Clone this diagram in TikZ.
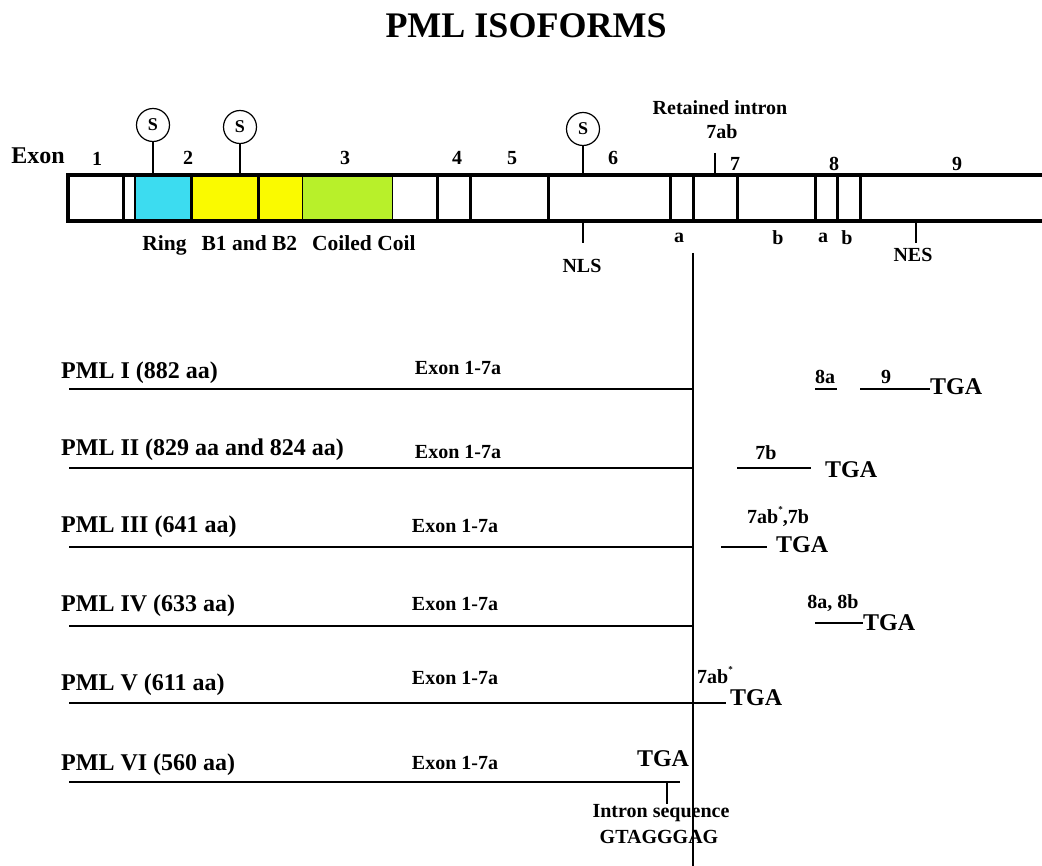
\documentclass[tikz,border=0pt]{standalone}
\usepackage{fontspec}
\setmainfont{Liberation Serif}
\newcommand{\tinystar}{\raisebox{0.55em}{\fontsize{9}{9}\selectfont *}}
\begin{document}
\begin{tikzpicture}[x=1pt,y=-1pt,
  lbl/.style={font=\bfseries\fontsize{20}{22}\selectfont,inner sep=0pt},
  big/.style={font=\bfseries\fontsize{24}{26}\selectfont,inner sep=0pt},
  title/.style={font=\bfseries\fontsize{36}{40}\selectfont,inner sep=0pt},
  sumo/.style={draw,circle,line width=1.2pt,minimum size=33pt,inner sep=0pt,font=\bfseries\fontsize{18}{20}\selectfont},
  barline/.style={line width=3.5pt},
  divline/.style={line width=3pt},
  tick/.style={line width=1.5pt},
  iso/.style={line width=2pt},
  seg/.style={line width=1.8pt}]
\useasboundingbox (0,0) rectangle (1042,866);
\definecolor{ringc}{HTML}{3CDCF0}
\definecolor{bbox}{HTML}{FAFA00}
\definecolor{coilc}{HTML}{B8F02A}

\node[title] (title) at (526,26) {PML ISOFORMS};

% bar fills
\fill[ringc] (135,175) rectangle (191,221);
\fill[bbox] (191,175) rectangle (302,221);
\fill[coilc] (302,175) rectangle (392,221);
% bar outline
\draw[barline] (1042,175) -- (68,175) -- (68,221) -- (1042,221);
\foreach \xx in {123,191,258,437,470,548,670,693,737,815,837,860}
  \draw[divline] (\xx,175) -- (\xx,221);
\draw[line width=1.5pt] (135,175) -- (135,221);
\draw[line width=1pt] (302,175) -- (302,221);
\draw[line width=1pt] (392,175) -- (392,221);

\node[big] (exon) at (38,156) {Exon};
\node[lbl] (e1) at (97,159) {1};
\node[lbl] (e2) at (188,158) {2};
\node[lbl] (e3) at (345,158) {3};
\node[lbl] (e4) at (457,158) {4};
\node[lbl] (e5) at (512,158) {5};
\node[lbl] (e6) at (613,158) {6};
\node[lbl] (e7) at (735,164) {7};
\node[lbl] (e8) at (834,164) {8};
\node[lbl] (e9) at (957,164) {9};

% SUMO sites
\node[sumo] (s1) at (153,125) {S};
\node[sumo] (s2) at (240,127) {S};
\node[sumo] (s3) at (583,129) {S};
\coordinate (b1) at (153,175);
\coordinate (b2) at (240,175);
\coordinate (b3) at (583,175);
\draw[tick] (s1.south) -- (b1);
\draw[tick] (s2.south) -- (b2);
\draw[tick] (s3.south) -- (b3);

\node[lbl] (ret) at (720,108) {Retained intron};
\node[lbl] (ab) at (722,132) {7ab};
\coordinate (t7a) at (715,153);
\coordinate (t7b) at (715,175);
\draw[tick] (t7a) -- (t7b);

\node[lbl,font=\bfseries\fontsize{21.5}{23}\selectfont] (dom) at (279,245) {Ring\hspace{15pt}B1 and B2\hspace{15pt}Coiled Coil};
\coordinate (nlsa) at (583,221);
\coordinate (nlsb) at (583,243);
\draw[tick] (nlsa) -- (nlsb);
\node[lbl] (nls) at (582,266) {NLS};
\node[lbl] (la1) at (679,238) {a};
\node[lbl] (lb1) at (778,238) {b};
\node[lbl] (la2) at (823,238) {a};
\node[lbl] (lb2) at (847,238) {b};
\coordinate (nesa) at (916,221);
\coordinate (nesb) at (916,243);
\draw[tick] (nesa) -- (nesb);
\node[lbl] (nes) at (913,255) {NES};

% long vertical line
\coordinate (vtop) at (693,253);
\coordinate (vbot) at (693,866);
\draw[iso] (vtop) -- (vbot);

% PML I
\node[big,anchor=west] (p1) at (61,373) {PML I (882 aa)};
\node[lbl] (x1) at (458,368) {Exon 1-7a};
\coordinate (l1a) at (69,389); \coordinate (l1b) at (693,389);
\draw[iso] (l1a) -- (l1b);
\node[lbl] (n8a) at (825,377) {8a};
\coordinate (s8a) at (815,389); \coordinate (s8b) at (837,389);
\draw[seg] (s8a) -- (s8b);
\node[lbl] (n9) at (886,377) {9};
\node[big,anchor=west] (tga1) at (930,387) {TGA};
\coordinate (s9a) at (860,389);
\draw[seg] (s9a) -- (s9a -| tga1.west);

% PML II
\node[big,anchor=west] (p2) at (61,450) {PML II (829 aa and 824 aa)};
\node[lbl] (x2) at (458,452) {Exon 1-7a};
\coordinate (l2a) at (69,468); \coordinate (l2b) at (693,468);
\draw[iso] (l2a) -- (l2b);
\node[lbl] (n7b) at (766,453) {7b};
\coordinate (s7a) at (737,468); \coordinate (s7b) at (811,468);
\draw[seg] (s7a) -- (s7b);
\node[big,anchor=west] (tga2) at (825,470) {TGA};

% PML III
\node[big,anchor=west] (p3) at (61,527) {PML III (641 aa)};
\node[lbl] (x3) at (455,526) {Exon 1-7a};
\coordinate (l3a) at (69,547); \coordinate (l3b) at (693,547);
\draw[iso] (l3a) -- (l3b);
\node[lbl] (n7abb) at (778,517) {7ab\tinystar,7b};
\coordinate (s3a) at (721,547);
\node[big,anchor=west] (tga3) at (776,545) {TGA};
\draw[seg] (s3a) -- ++(46,0);

% PML IV
\node[big,anchor=west] (p4) at (61,606) {PML IV (633 aa)};
\node[lbl] (x4) at (455,604) {Exon 1-7a};
\coordinate (l4a) at (69,626); \coordinate (l4b) at (693,626);
\draw[iso] (l4a) -- (l4b);
\node[lbl] (n8ab) at (833,603) {8a, 8b};
\node[big,anchor=west] (tga4) at (863,623) {TGA};
\coordinate (s4a) at (815,623);
\draw[seg] (s4a) -- (s4a -| tga4.west);

% PML V
\node[big,anchor=west] (p5) at (61,685) {PML V (611 aa)};
\node[lbl] (x5) at (455,678) {Exon 1-7a};
\node[lbl] (n7ab) at (715,675) {7ab\tinystar};
\node[big,anchor=west] (tga5) at (730,698) {TGA};
\coordinate (l5a) at (69,703); \coordinate (l5b) at (726,703);
\draw[iso] (l5a) -- (l5b);

% PML VI
\node[big,anchor=west] (p6) at (61,765) {PML VI (560 aa)};
\node[lbl] (x6) at (455,763) {Exon 1-7a};
\node[big] (tga6) at (663,759) {TGA};
\coordinate (l6a) at (69,782); \coordinate (l6b) at (680,782);
\draw[iso] (l6a) -- (l6b);
\node[lbl] (intr) at (661,813) {Intron sequence};
\node[lbl] (gt) at (659,837) {GTAGGGAG};
\coordinate (i6) at (667,782);
\draw[tick] (i6) -- (intr.north -| i6);
\end{tikzpicture}
\end{document}
